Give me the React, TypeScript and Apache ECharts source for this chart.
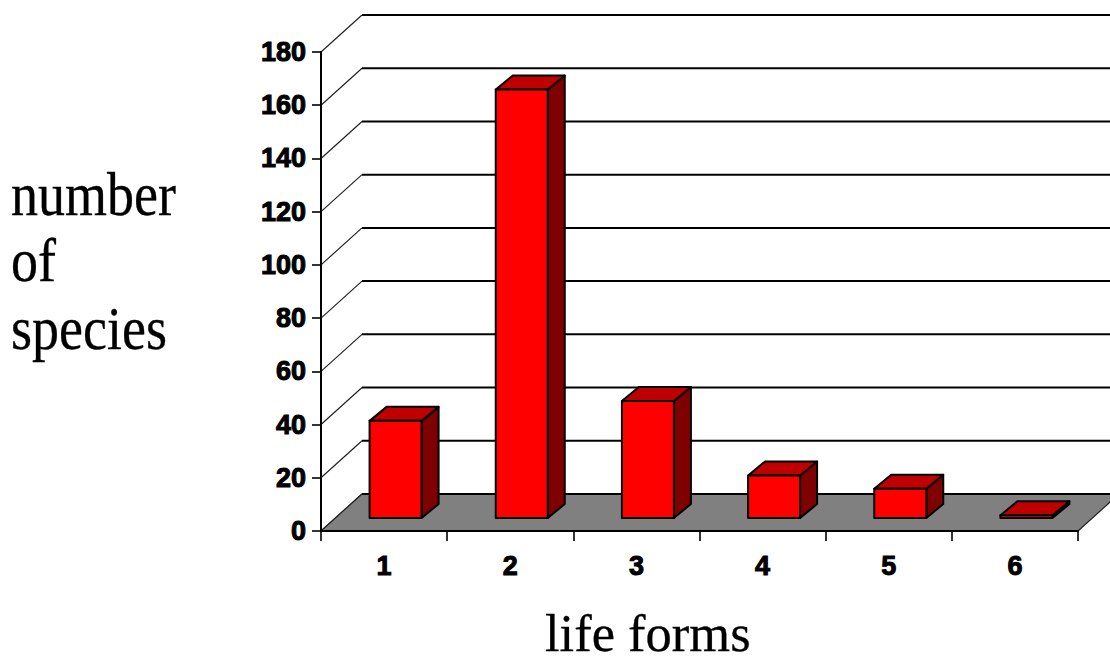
import React, { useEffect, useRef } from "react";
import * as echarts from "echarts";

const categories = ["1", "2", "3", "4", "5", "6"];
const speciesCounts = [36.5, 161, 44, 16, 11, 1];
const yTicks = [0, 20, 40, 60, 80, 100, 120, 140, 160, 180];
const yTitleLines = ["number", "of", "species"];
const xTitle = "life forms";

const WALL_DX = 41;
const WALL_DY = -37;
const BAR_SHIFT_X = 11.5;
const BAR_SHIFT_Y = -13;
const BAR_WIDTH = 52;
const BAR_DX = 17;
const BAR_DY = -14;
const LABEL_FONT = "Liberation Sans";
const TITLE_FONT = "Liberation Serif";

function renderWallLine(params: any, api: any) {
  const cs = params.coordSys;
  const y = api.coord([0, api.value(0)])[1];
  return {
    type: "group",
    children: [
      {
        type: "line",
        shape: { x1: cs.x, y1: y, x2: cs.x + WALL_DX, y2: y + WALL_DY },
        style: { stroke: "#222", lineWidth: 1.2 },
      },
      {
        type: "line",
        shape: { x1: cs.x + WALL_DX, y1: y + WALL_DY, x2: cs.x + cs.width + WALL_DX, y2: y + WALL_DY },
        style: { stroke: "#000", lineWidth: 2 },
      },
    ],
  };
}

function renderFloor(params: any, api: any) {
  const cs = params.coordSys;
  const y0 = api.coord([0, 0])[1];
  const l = cs.x;
  const r = cs.x + cs.width;
  return {
    type: "group",
    children: [
      {
        type: "polygon",
        shape: {
          points: [
            [l, y0],
            [r, y0],
            [r + WALL_DX, y0 + WALL_DY],
            [l + WALL_DX, y0 + WALL_DY],
          ],
        },
        style: { fill: "#808080", stroke: "none" },
      },
      {
        type: "line",
        shape: { x1: l + WALL_DX, y1: y0 + WALL_DY, x2: r + WALL_DX, y2: y0 + WALL_DY },
        style: { stroke: "#000", lineWidth: 2 },
      },
      {
        type: "line",
        shape: { x1: l, y1: y0, x2: l + WALL_DX, y2: y0 + WALL_DY },
        style: { stroke: "#222", lineWidth: 1.2 },
      },
      {
        type: "line",
        shape: { x1: r, y1: y0, x2: r + WALL_DX, y2: y0 + WALL_DY },
        style: { stroke: "#222", lineWidth: 1.2 },
      },
    ],
  };
}

function renderBar(_params: any, api: any) {
  const base = api.coord([api.value(0), 0]);
  const top = api.coord([api.value(0), api.value(1)]);
  const l = base[0] + BAR_SHIFT_X - BAR_WIDTH / 2;
  const r = l + BAR_WIDTH;
  const b = base[1] + BAR_SHIFT_Y;
  const t = top[1] + BAR_SHIFT_Y;
  const edge = { stroke: "#000", lineWidth: 2, lineJoin: "round" };
  return {
    type: "group",
    children: [
      {
        type: "polygon",
        shape: { points: [[r, b], [r + BAR_DX, b + BAR_DY], [r + BAR_DX, t + BAR_DY], [r, t]] },
        style: { fill: "#7f0000", ...edge },
      },
      {
        type: "polygon",
        shape: { points: [[l, t], [r, t], [r + BAR_DX, t + BAR_DY], [l + BAR_DX, t + BAR_DY]] },
        style: { fill: "#bf0000", ...edge },
      },
      {
        type: "rect",
        shape: { x: l, y: t, width: BAR_WIDTH, height: b - t },
        style: { fill: "#ff0000", ...edge },
      },
    ],
  };
}

export default function App() {
  const ref = useRef<HTMLDivElement>(null);
  useEffect(() => {
    const chart = echarts.init(ref.current!, undefined, { renderer: "svg" });
    const titleStyle = {
      font: `54px "${TITLE_FONT}"`,
      fill: "#000",
      stroke: "#000",
      lineWidth: 0.3,
      textVerticalAlign: "middle",
    };
    chart.setOption({
      animation: false,
      backgroundColor: "#fff",
      grid: { left: 321, top: 52, width: 757, height: 479, containLabel: false },
      xAxis: {
        type: "category",
        data: categories,
        z: 5,
        axisLine: { show: true, lineStyle: { color: "#000", width: 2 } },
        axisTick: { show: true, length: 10, lineStyle: { color: "#000", width: 1.6 } },
        axisLabel: {
          margin: 21,
          fontFamily: LABEL_FONT,
          fontWeight: "bold",
          fontSize: 27,
          color: "#000",
          textBorderColor: "#000",
          textBorderWidth: 1,
        },
      },
      yAxis: {
        type: "value",
        min: 0,
        max: 180,
        interval: 20,
        z: 5,
        splitLine: { show: false },
        axisLine: { show: true, lineStyle: { color: "#000", width: 2 } },
        axisTick: { show: true, length: 9, lineStyle: { color: "#000", width: 1.6 } },
        axisLabel: {
          margin: 15,
          fontFamily: LABEL_FONT,
          fontWeight: "bold",
          fontSize: 27,
          color: "#000",
          textBorderColor: "#000",
          textBorderWidth: 1,
          padding: [0, 0, 6, 0],
        },
      },
      series: [
        { type: "custom", silent: true, clip: false, data: yTicks.map((v) => [v]), encode: { y: 0 }, renderItem: renderWallLine },
        { type: "custom", silent: true, clip: false, data: [[0]], encode: { y: 0 }, renderItem: renderFloor },
        {
          type: "custom",
          silent: true,
          clip: false,
          data: speciesCounts.map((v, i) => [i, v]),
          encode: { x: 0, y: 1 },
          renderItem: renderBar,
        },
      ],
      graphic: [
        ...yTitleLines.map((line, i) => ({
          type: "text",
          x: 11,
          y: [194, 260, 328][i],
          scaleY: 1.12,
          silent: true,
          style: { ...titleStyle, text: line },
        })),
        {
          type: "text",
          x: 545,
          y: 633,
          silent: true,
          style: { ...titleStyle, font: `52.5px "${TITLE_FONT}"`, text: xTitle },
        },
      ],
    });
    return () => chart.dispose();
  }, []);
  return (
    <div
      ref={ref}
      style={{ position: "absolute", left: 0, top: 0, width: 1110, height: 661 }}
    />
  );
}
